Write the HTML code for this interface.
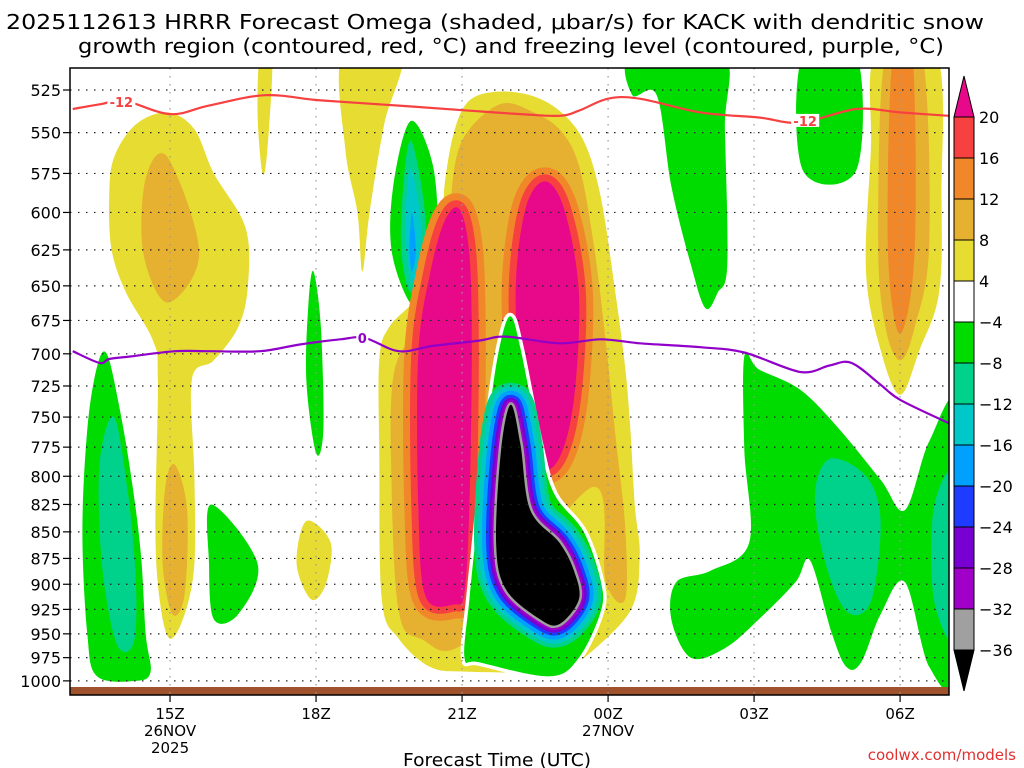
<!DOCTYPE html>
<html><head><meta charset="utf-8">
<style>
body{margin:0;background:#fff;}
svg{display:block;font-family:"DejaVu Sans","Liberation Sans",sans-serif;}
</style></head>
<body>
<svg id="chart" width="1024" height="768" viewBox="0 0 1024 768">
<g id="title">
<text x="6" y="29" font-size="20" textLength="978" lengthAdjust="spacingAndGlyphs">2025112613 HRRR Forecast Omega (shaded, μbar/s) for KACK with dendritic snow</text>
<text x="78" y="53" font-size="20" textLength="866" lengthAdjust="spacingAndGlyphs">growth region (contoured, red, °C) and freezing level (contoured, purple, °C)</text>
</g>
<defs><clipPath id="pc"><rect x="70" y="68" width="879" height="627"/></clipPath></defs>
<g id="fills" clip-path="url(#pc)"></g>
<g id="grid"></g>
<g id="lines" clip-path="url(#pc)"></g>
<g id="axes"></g>
<g id="cbar"></g>
<text x="497" y="766" text-anchor="middle" font-size="18" textLength="188" lengthAdjust="spacingAndGlyphs">Forecast Time (UTC)</text>
<text x="1016" y="760" text-anchor="end" font-size="15" fill="#e03030">coolwx.com/models</text>
</svg>
<script>
// axis data
const pressureTicks=[525,550,575,600,625,650,675,700,725,750,775,800,825,850,875,900,925,950,975,1000];
const timeTickHours=[2,5,8,11,14,17];
const timeTickLabels=["15Z","18Z","21Z","00Z","03Z","06Z"];
const dateLabels=[["26NOV","2025"],null,null,["27NOV"],null,null];
const cbarLevels=[20,16,12,8,4,-4,-8,-12,-16,-20,-24,-28,-32,-36];
const cbarColors=["#f74040","#f0882a","#e6b030","#e6dc32","#ffffff","#00dc00","#00d28c","#00c8c8","#00a0ff","#1e3cff","#7800d2","#a000c8","#a0a0a0"];
const colorAbove="#e8088a", colorBelow="#000000";
// contour data (hour from 13Z, hPa)
const dgzTemp=[[0,536],[0.6,533],[1.05,531],[2.0,539],[2.8,534],[3.95,528],[5.1,531],[6.7,534],[8.15,537],[9.2,539],[10.0,540],[10.4,537],[11.0,530],[11.65,530],[12.9,538],[14.1,541],[14.95,544],[16.1,536],[17.0,538],[18.0,540]];
const frzLevel=[[0,698],[0.55,707],[0.75,704],[1.2,702],[2.1,698],[2.8,698],[3.85,698],[4.65,693],[5.5,689],[6.0,688],[6.7,698],[7.4,694],[8.35,690],[8.9,687],[10.0,692],[10.85,689],[11.65,692],[12.9,695],[13.8,699],[14.95,714],[15.55,709],[16.0,707],[16.6,724],[17.0,736],[18,755]];
// shaded omega regions: [name, color, points]
const regions=[
["left-yellow","#e6dc32",[[1.95,538],[2.5,548],[2.9,575],[3.55,610],[3.6,650],[3.4,680],[2.9,705],[2.45,720],[2.5,800],[2.5,880],[2.3,930],[2.0,955],[1.8,920],[1.7,850],[1.75,720],[1.65,690],[1.1,655],[0.8,625],[0.75,590],[0.85,565],[1.3,545]]],
["left-tan-upper","#e6b030",[[1.95,565],[2.6,627],[1.95,662],[1.45,627],[1.5,578]]],
["left-tan-lower","#e6b030",[[2.1,790],[2.35,830],[2.3,910],[2.05,930],[1.85,880],[1.9,810]]],
["left-green","#00dc00",[[0.7,700],[0.95,740],[1.2,800],[1.4,870],[1.5,950],[1.6,990],[1.3,1000],[0.5,995],[0.3,950],[0.2,850],[0.3,760],[0.5,710]]],
["left-teal","#00d28c",[[0.85,750],[1.15,820],[1.3,900],[1.25,960],[0.9,960],[0.6,880],[0.55,790]]],
["green-triangle","#00dc00",[[2.85,825],[3.8,880],[3.4,930],[2.9,935],[2.8,880]]],
["yellow-small","#e6dc32",[[4.8,840],[5.3,860],[5.2,900],[4.9,915],[4.6,880]]],
["green-thin","#00dc00",[[4.95,640],[5.1,680],[5.15,760],[5.0,780],[4.8,720],[4.85,660]]],
["yellow-thin-top","#e6dc32",[[3.85,505],[4.1,505],[4.0,560],[3.9,575],[3.8,540]]],
["yellow-top","#e6dc32",[[5.55,505],[6.75,505],[6.4,545],[6.1,600],[5.95,640],[5.85,600],[5.6,560]]],
["mid-green","#00dc00",[[6.95,543],[7.4,570],[7.5,620],[7.3,655],[6.95,663],[6.55,625],[6.6,580]]],
["mid-teal","#00d28c",[[6.95,555],[7.2,590],[7.25,630],[6.95,655],[6.75,625],[6.8,580]]],
["mid-cyan","#00c8c8",[[6.95,572],[7.15,605],[7.1,635],[6.95,648],[6.85,620],[6.85,595]]],
["mid-blue","#00a0ff",[[6.97,600],[7.05,625],[6.97,640],[6.92,625]]],
["central-yellow","#e6dc32",[[6.3,705],[6.5,680],[7.15,655],[7.55,620],[7.65,580],[7.85,548],[8.15,531],[8.7,526],[9.4,528],[10.0,537],[10.5,555],[10.85,590],[11.15,655],[11.35,710],[11.45,755],[11.55,826],[11.65,873],[11.45,927],[10.4,980],[10.0,990],[8.15,990],[7.35,985],[6.7,955],[6.35,915],[6.3,780]]],
["central-tan","#e6b030",[[6.6,715],[7.15,675],[7.65,625],[7.85,570],[8.15,548],[8.8,533],[9.4,537],[10.0,548],[10.4,570],[10.7,620],[10.95,690],[11.15,765],[11.35,845],[11.35,915],[10.95,897],[10.65,810],[8.15,955],[7.15,955],[6.7,927],[6.55,805]]],
["right-top-green","#00dc00",[[11.5,505],[13.35,505],[13.4,548],[13.45,635],[13.25,655],[13.0,666],[12.7,635],[12.3,583],[12.0,528],[11.5,528]]],
["right-green-box","#00dc00",[[15,505],[16.1,505],[16.1,573],[15,573]]],
["right-yellow","#e6dc32",[[16.5,505],[17.75,505],[17.85,590],[17.8,655],[17.4,697],[17.0,732],[16.6,697],[16.3,640],[16.4,560]]],
["right-tan","#e6b030",[[16.7,505],[17.45,505],[17.6,620],[17.3,680],[17.0,705],[16.7,680],[16.55,620]]],
["right-orange","#f0882a",[[16.85,505],[17.25,505],[17.3,625],[17.0,685],[16.75,625]]],
["lower-right-green","#00dc00",[[13.8,702],[14.1,712],[14.95,728],[15.75,760],[16.6,803],[17.1,830],[17.6,770],[18.2,745],[18.2,990],[17.6,985],[17.1,898],[16.6,930],[16.2,980],[15.9,985],[15.6,950],[15.15,877],[14.85,898],[14.1,935],[13.4,965],[12.7,975],[12.3,935],[12.4,898],[13.1,887],[13.9,860],[13.8,777]]],
["lower-right-teal","#00d28c",[[15.55,785],[16.3,800],[16.6,840],[16.4,917],[15.9,927],[15.45,877],[15.25,817]]],
["far-right-teal","#00d28c",[[17.7,826],[18.2,798],[18.2,955],[17.7,917]]]
];
const pinkLeft=[[7.95,598],[8.15,628],[8.2,700],[8.15,826],[8.05,908],[7.85,920],[7.25,912],[7.1,826],[7.1,700],[7.35,640],[7.65,605]];
const pinkRight=[[9.7,580],[10.1,598],[10.4,655],[10.3,735],[10.0,784],[9.6,790],[9.25,735],[9.1,655],[9.3,598]];
const negOuter=[[9.0,672],[9.2,696],[9.6,773],[9.9,816],[10.5,850],[10.85,897],[10.85,927],[10.4,975],[9.8,995],[8.35,980],[8.05,975],[8.15,915],[8.35,826],[8.6,735],[8.8,690]];
const blackCore=[[9.0,740],[9.2,773],[9.4,830],[10.0,860],[10.3,887],[10.4,915],[10.0,940],[9.6,935],[8.9,905],[8.7,860],[8.8,778]];

const X0=72.7, PXH=48.67, Y0=90, PXL=917;
function x(h){return X0+h*PXH;}
function y(p){return Y0+PXL*Math.log(p/525);}
const NS="http://www.w3.org/2000/svg";
function mk(tag,attrs,parent){const e=document.createElementNS(NS,tag);for(const k in attrs)e.setAttribute(k,attrs[k]);parent.appendChild(e);return e;}
function smooth(pts,closed){
  const P=pts.map(d=>[x(d[0]),y(d[1])]);const n=P.length;let s="M"+P[0][0].toFixed(1)+","+P[0][1].toFixed(1);
  const cnt=closed?n:n-1;
  for(let i=0;i<cnt;i++){
    const p0=P[(i-1+n)%n],p1=P[i],p2=P[(i+1)%n],p3=P[(i+2)%n];
    const a=closed||i>0?p0:p1, b=closed||i+2<n?p3:p2;
    const c1=[p1[0]+(p2[0]-a[0])/6,p1[1]+(p2[1]-a[1])/6],c2=[p2[0]-(b[0]-p1[0])/6,p2[1]-(b[1]-p1[1])/6];
    s+="C"+c1.map(v=>v.toFixed(1))+" "+c2.map(v=>v.toFixed(1))+" "+p2.map(v=>v.toFixed(1));
  }
  return s+(closed?"Z":"");
}
const fills=document.getElementById('fills');
regions.forEach(r=>{
  const e=mk('path',{d:smooth(r[2],true),fill:r[1]},fills);
  
  
});
function banded(pts,name,bands,core){
  const d=smooth(pts,true);
  bands.forEach(b=>{
    const e=mk('path',{d:d,fill:b[0],stroke:b[0],'stroke-width':b[1],'stroke-linejoin':'round'},fills);
    
    
  });
  const e=mk('path',{d:d,fill:core},fills);
  
  
}
banded(pinkLeft,'omega-max-left',[["#f0882a",28],["#f74040",14]],colorAbove);
banded(pinkRight,'omega-max-right',[["#f0882a",28],["#f74040",14]],colorAbove);
{const e=mk('path',{d:smooth(negOuter,true),fill:"#fff",stroke:"#fff",'stroke-width':7,'stroke-linejoin':'round'},fills);
}
{const e=mk('path',{d:smooth(negOuter,true),fill:"#00dc00"},fills);
}
banded(blackCore,'omega-min-core',[["#00d28c",44],["#00c8c8",36],["#00a0ff",28],["#1e3cff",20],["#7800d2",14],["#a000c8",9],["#a0a0a0",5]],colorBelow);
{const e=mk('rect',{x:70,y:687,width:879,height:8,fill:"#a0522d"},fills);
}

const grid=document.getElementById('grid');
pressureTicks.forEach(p=>{
  const e=mk('line',{x1:70,x2:949,y1:y(p),y2:y(p),stroke:"#222",'stroke-width':1.2,'stroke-dasharray':"1.5,6.5"},grid);
  
});
timeTickHours.forEach(h=>{
  const e=mk('line',{x1:x(h),x2:x(h),y1:68,y2:695,stroke:"#999",'stroke-width':1.2,'stroke-dasharray':"1.5,6.5"},grid);
  
});
const lines=document.getElementById('lines');
{const e=mk('path',{d:smooth(dgzTemp,false),fill:"none",stroke:"#f74040",'stroke-width':2.2},lines);
}
{const e=mk('path',{d:smooth(frzLevel,false),fill:"none",stroke:"#9000c8",'stroke-width':2.2},lines);
}
function clabel(t,h,p,col,nm){
  mk('rect',{x:x(h)-14,y:y(p)-7,width:28,height:13,fill:"#fff"},lines);
  const e=mk('text',{x:x(h),y:y(p)+5,'text-anchor':'middle','font-size':13,'font-weight':'bold',fill:col},lines);
  e.textContent=t;
}
clabel("-12",1.0,532,"#f74040",'contour-label-minus12');
clabel("-12",15.05,543,"#f74040",'contour-label-minus12-right');
{mk('rect',{x:x(5.95)-6,y:y(688)-7,width:12,height:13,fill:"#fff"},lines);
const e=mk('text',{x:x(5.95),y:y(688)+5,'text-anchor':'middle','font-size':13,'font-weight':'bold',fill:"#9000c8"},lines);
e.textContent="0";}

const axes=document.getElementById('axes');
{const e=mk('rect',{x:70,y:68,width:879,height:627,fill:"none",stroke:"#000",'stroke-width':1.5},axes);
}
pressureTicks.forEach(p=>{
  mk('line',{x1:63,x2:70,y1:y(p),y2:y(p),stroke:"#000",'stroke-width':1.2},axes);
  const e=mk('text',{x:61,y:y(p)+6,'text-anchor':'end','font-size':16},axes);
  e.textContent=p;
});
timeTickHours.forEach((h,i)=>{
  mk('line',{x1:x(h),x2:x(h),y1:695,y2:702,stroke:"#000",'stroke-width':1.2},axes);
  const e=mk('text',{x:x(h),y:719,'text-anchor':'middle','font-size':15},axes);
  e.textContent=timeTickLabels[i];
  if(dateLabels[i])dateLabels[i].forEach((t,j)=>{
    const d=mk('text',{x:x(h),y:736+j*17,'text-anchor':'middle','font-size':15},axes);
    d.textContent=t;
  });
});
const cb=document.getElementById('cbar');
const CBX=954,CBW=20,CBT=117,STEP=(650-117)/(cbarLevels.length-1);
function cy(i){return CBT+i*STEP;}
cbarColors.forEach((c,i)=>{
  const e=mk('rect',{x:CBX,y:cy(i),width:CBW,height:STEP,fill:c,stroke:"#000",'stroke-width':1},cb);
  
});
{const e=mk('polygon',{points:`${CBX},${CBT} ${CBX+CBW/2},76 ${CBX+CBW},${CBT}`,fill:colorAbove,stroke:"#000"},cb);
}
{const e=mk('polygon',{points:`${CBX},${cy(cbarLevels.length-1)} ${CBX+CBW/2},691 ${CBX+CBW},${cy(cbarLevels.length-1)}`,fill:colorBelow,stroke:"#000"},cb);
}
cbarLevels.forEach((v,i)=>{
  const e=mk('text',{x:979,y:cy(i)+6,'font-size':16},cb);
  e.textContent=v<0?"−"+(-v):String(v);
  
});
</script>
</body></html>
